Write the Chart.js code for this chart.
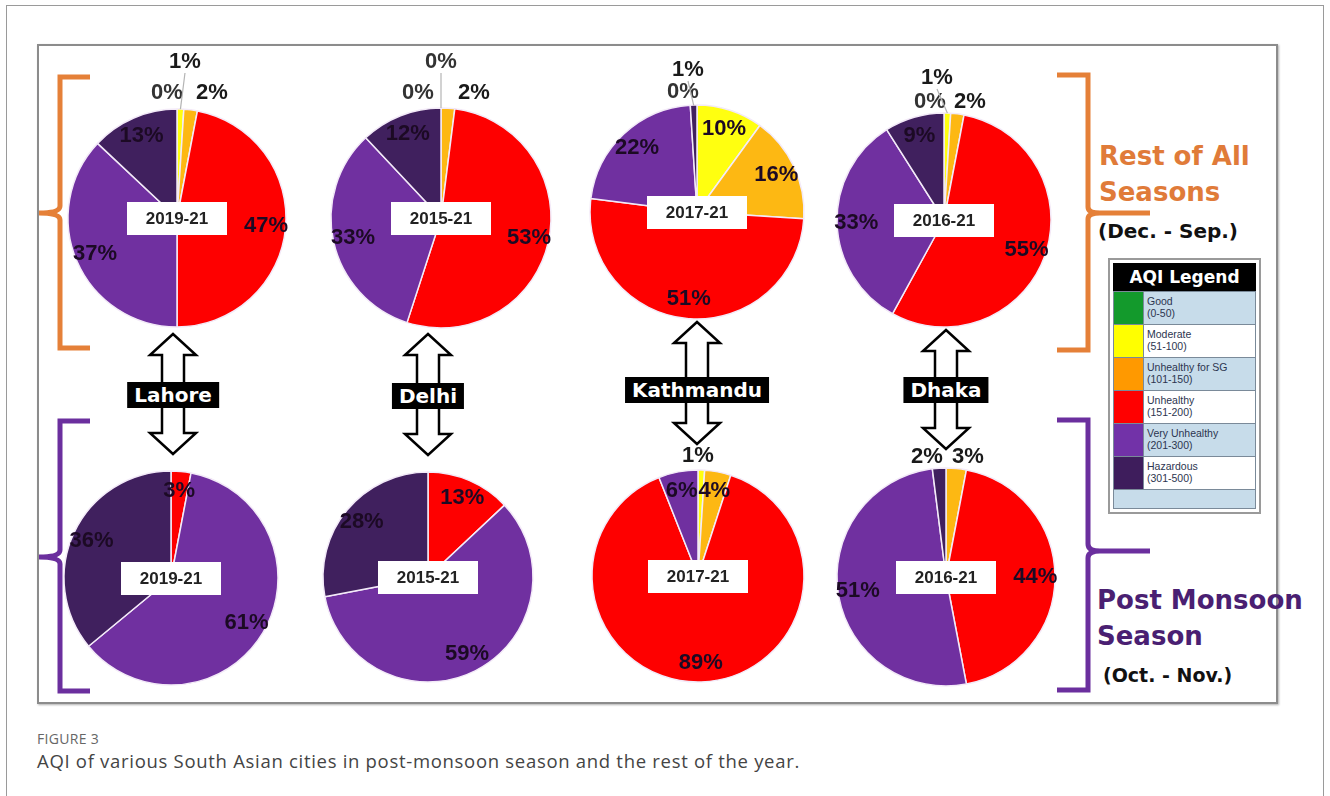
<!DOCTYPE html>
<html>
<head>
<meta charset="utf-8">
<title>AQI of South Asian cities</title>
<script src="https://cdn.jsdelivr.net/npm/chart.js@4.4.1/dist/chart.umd.min.js"></script>
<style>
  html, body { margin: 0; padding: 0; background: #fff; }
  body { width: 1330px; height: 796px; position: relative; overflow: hidden; font-family: "Liberation Sans", Arial, sans-serif; }
  #pageFrame { position: absolute; left: 6px; top: 5px; width: 1316px; height: 900px; border: 1px solid #9a9a9a; }
  #figFrame { position: absolute; left: 37px; top: 44px; width: 1237px; height: 656px; border: 2px solid #8c8c8c; box-shadow: 1px 1px 2px #b0b0b0; background: #fff; }
  #overlay { position: absolute; left: 0; top: 0; }
  canvas.pie { position: absolute; }
  .city { position: absolute; background: #000; color: #fff; font: bold 20px "DejaVu Sans", sans-serif; height: 26px; line-height: 26px; padding: 0 7px; transform: translate(-50%, -50%); white-space: nowrap; }
  .season { position: absolute; font: bold 26px "DejaVu Sans", sans-serif; line-height: 36px; white-space: nowrap; }
  .months { position: absolute; font: bold 20px "DejaVu Sans", sans-serif; color: #111; white-space: nowrap; }
  #aqiLegend { position: absolute; left: 1108px; top: 258px; width: 143px; border: 2px solid #9a9a9a; padding: 3px; background: #fff; }
  #aqiLegend .head { background: #000; color: #fff; font: bold 17px "DejaVu Sans", sans-serif; text-align: center; height: 28px; line-height: 28px; }
  #aqiLegend .row { display: flex; height: 32px; border-top: 1px solid #7a8a99; border-left: 1px solid #7a8a99; border-right: 1px solid #7a8a99; }
  #aqiLegend .row.tail { height: 18px; border-bottom: 1px solid #7a8a99; }
  #aqiLegend .sw { width: 29px; border-right: 1px solid #7a8a99; }
  #aqiLegend .txt { flex: 1; font: 10.5px "Liberation Sans", Arial, sans-serif; color: #2c3550; padding: 3px 0 0 3px; line-height: 12px; }
  .capLabel { position: absolute; left: 37px; top: 729px; font: 14px "Open Sans", sans-serif; color: #666; letter-spacing: 0.3px; }
  .capText { position: absolute; left: 37px; top: 748px; font: 18.5px "Open Sans", sans-serif; color: #444; letter-spacing: 0.7px; }
</style>
</head>
<body>
<div id="pageFrame"></div>
<div id="figFrame"></div>
<svg id="overlay" width="1330" height="796"></svg>

<div class="season" style="left:1099px; top:138px; color:#e07b39;">Rest of All<br>Seasons</div>
<div class="months" style="left:1098px; top:219px;">(Dec. - Sep.)</div>
<div class="season" style="left:1097px; top:582px; color:#4a1f72;">Post Monsoon<br>Season</div>
<div class="months" style="left:1103px; top:664px; font-size:19px;">(Oct. - Nov.)</div>

<div id="aqiLegend"><div class="head">AQI Legend</div></div>

<div class="capLabel">FIGURE 3</div>
<div class="capText">AQI of various South Asian cities in post-monsoon season and the rest of the year.</div>

<script>
// AQI bands, in the order slices run clockwise from 12 o'clock
const categories = ['Good', 'Moderate', 'Unhealthy for SG', 'Unhealthy', 'Very Unhealthy', 'Hazardous'];
const bandRanges = ['(0-50)', '(51-100)', '(101-150)', '(151-200)', '(201-300)', '(301-500)'];

const cities = ['Lahore', 'Delhi', 'Kathmandu', 'Dhaka'];
const periods = ['2019-21', '2015-21', '2017-21', '2016-21'];

// share of days (%) per band, rest of the year (Dec. - Sep.)
const lahoreRest = [0, 1, 2, 47, 37, 13];
const delhiRest = [0, 0, 2, 53, 33, 12];
const kathmanduRest = [0, 10, 16, 51, 22, 1];
const dhakaRest = [0, 1, 2, 55, 33, 9];

// share of days (%) per band, post monsoon (Oct. - Nov.)
const lahorePost = [0, 0, 0, 3, 61, 36];
const delhiPost = [0, 0, 0, 13, 59, 28];
const kathmanduPost = [0, 1, 4, 89, 6, 0];
const dhakaPost = [0, 0, 3, 44, 51, 2];

const sliceColors = ['#109a30', '#ffff10', '#fdb813', '#fe0000', '#7030a0', '#40205e'];
const swatchColors = ['#139a2c', '#ffff00', '#ff9900', '#ff0000', '#7232a8', '#3e1d5c'];

// pie placement on the page: centre x, centre y, radius
const restPies = [[177, 218, 109], [441, 218, 110], [697, 212, 107], [944, 220, 107]];
const postPies = [[171, 578, 107], [428, 577, 105], [698, 576, 106], [946, 577, 109]];

// small slices whose labels sit outside the pie: band index -> offset of label from centre
const restCallouts = [
  { 0: [-10, -125], 1: [8, -156], 2: [35, -125] },
  { 0: [-23, -125], 1: [0, -156], 2: [33, -125] },
  { 0: [-14, -120], 5: [-9, -142] },
  { 0: [-14, -118], 1: [-7, -142], 2: [26, -118] }
];
const postCallouts = [{}, {}, { 1: [0, -120] }, { 5: [-19, -120], 2: [22, -120] }];

// double arrow between the two rows: x, top tip, bottom tip, label centre y
const arrows = [[173, 334, 454, 395], [428, 334, 455, 396], [697, 322, 444, 390], [946, 330, 449, 390]];

const CW = 260, CH = 340, OX = 130, OY = 180;

const sliceLabels = {
  id: 'sliceLabels',
  afterDatasetsDraw(chart, args, opts) {
    const ctx = chart.ctx;
    const meta = chart.getDatasetMeta(0);
    const values = chart.data.datasets[0].data;
    const first = meta.data[0];
    const cx = first.x, cy = first.y;

    // period box in the middle of the pie
    ctx.save();
    ctx.fillStyle = '#fff';
    ctx.fillRect(cx - 50, cy - 16, 100, 33);
    ctx.fillStyle = '#222';
    ctx.font = 'bold 17px "Liberation Sans", Arial, sans-serif';
    ctx.textAlign = 'center';
    ctx.textBaseline = 'middle';
    ctx.fillText(opts.period, cx, cy + 1);

    ctx.font = 'bold 22px "Liberation Sans", Arial, sans-serif';
    meta.data.forEach((arc, i) => {
      const v = values[i];
      if (v === 0 && !opts.showZero) return;
      const p = arc.getProps(['startAngle', 'endAngle', 'outerRadius'], true);
      const mid = (p.startAngle + p.endAngle) / 2;
      const spot = opts.callouts[i];
      let lx, ly;
      if (spot) {
        lx = cx + spot[0];
        ly = cy + spot[1];
        if (spot[1] < -135) {
          ctx.strokeStyle = '#b4b4b4';
          ctx.lineWidth = 1.2;
          ctx.beginPath();
          ctx.moveTo(lx, ly + 11);
          ctx.lineTo(cx + Math.cos(mid) * p.outerRadius, cy + Math.sin(mid) * p.outerRadius);
          ctx.stroke();
        }
        ctx.fillStyle = v === 0 ? '#333' : '#1a1a1a';
      } else {
        lx = cx + Math.cos(mid) * p.outerRadius * 0.82;
        ly = cy + Math.sin(mid) * p.outerRadius * 0.82;
        ctx.fillStyle = '#1c0a24';
      }
      ctx.fillText(v + '%', lx, ly);
    });
    ctx.restore();
  }
};

function makePie(values, place, period, callouts, showZero) {
  const [x, y, r] = place;
  const canvas = document.createElement('canvas');
  canvas.className = 'pie';
  canvas.width = CW;
  canvas.height = CH;
  canvas.style.left = (x - OX) + 'px';
  canvas.style.top = (y - OY) + 'px';
  document.body.appendChild(canvas);

  new Chart(canvas, {
    type: 'pie',
    data: {
      labels: categories,
      datasets: [{
        data: values,
        backgroundColor: sliceColors,
        borderColor: '#f3eaf8',
        borderWidth: c => (c.raw === 0 ? 0 : 1.5)
      }]
    },
    options: {
      responsive: false,
      animation: false,
      radius: r,
      layout: { padding: { left: OX - 112, right: CW - OX - 112, top: OY - 112, bottom: CH - OY - 112 } },
      plugins: {
        legend: { display: false },
        tooltip: { enabled: false },
        sliceLabels: { period: period, callouts: callouts, showZero: showZero }
      }
    },
    plugins: [sliceLabels]
  });
}

const restData = [lahoreRest, delhiRest, kathmanduRest, dhakaRest];
const postData = [lahorePost, delhiPost, kathmanduPost, dhakaPost];
for (let i = 0; i < cities.length; i++) {
  makePie(restData[i], restPies[i], periods[i], restCallouts[i], true);
  makePie(postData[i], postPies[i], periods[i], postCallouts[i], false);
}

// brackets and double arrows
const svg = document.getElementById('overlay');
const NS = 'http://www.w3.org/2000/svg';
function path(d, stroke, width, fill) {
  const el = document.createElementNS(NS, 'path');
  el.setAttribute('d', d);
  el.setAttribute('stroke', stroke);
  el.setAttribute('stroke-width', width);
  el.setAttribute('fill', fill || 'none');
  el.setAttribute('stroke-linejoin', 'miter');
  svg.appendChild(el);
}
const orange = '#e58038', purple = '#6b2f9e';
path('M90 77 H60 V206 Q60 213 39 213 Q60 213 60 220 V348 H90', orange, 5);
path('M90 421 H60 V550 Q60 557 39 557 Q60 557 60 564 V691 H90', purple, 5);
path('M1057 75 H1088 V207 Q1088 213 1100 213 H1150 M1100 213 Q1088 213 1088 219 V350 H1057', orange, 5);
path('M1057 420 H1088 V544 Q1088 551 1100 551 H1150 M1100 551 Q1088 551 1088 558 V690 H1057', purple, 5);

arrows.forEach(([x, yt, yb, ly], i) => {
  const hw = 23, sw = 11, hl = 21;
  path(`M${x} ${yt} L${x + hw} ${yt + hl} L${x + sw} ${yt + hl} L${x + sw} ${yb - hl} L${x + hw} ${yb - hl} L${x} ${yb} ` +
       `L${x - hw} ${yb - hl} L${x - sw} ${yb - hl} L${x - sw} ${yt + hl} L${x - hw} ${yt + hl} Z`, '#000', 2.5, '#fff');
  const tag = document.createElement('div');
  tag.className = 'city';
  tag.textContent = cities[i];
  tag.style.left = x + 'px';
  tag.style.top = ly + 'px';
  document.body.appendChild(tag);
});

// AQI legend rows
const legend = document.getElementById('aqiLegend');
categories.forEach((name, i) => {
  const row = document.createElement('div');
  row.className = 'row';
  row.style.background = i % 2 === 0 ? '#c7dcea' : '#fff';
  row.innerHTML = `<div class="sw" style="background:${swatchColors[i]}"></div><div class="txt">${name}<br>${bandRanges[i]}</div>`;
  legend.appendChild(row);
});
const tail = document.createElement('div');
tail.className = 'row tail';
tail.style.background = '#c7dcea';
legend.appendChild(tail);
</script>
</body>
</html>
